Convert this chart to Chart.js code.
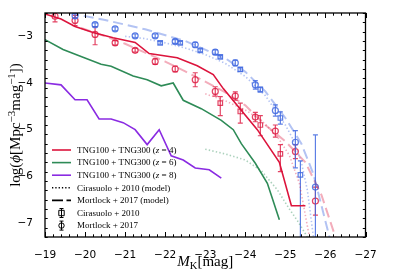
<!DOCTYPE html>
<html><head><meta charset="utf-8">
<script src="https://cdn.jsdelivr.net/npm/chart.js@4.4.0/dist/chart.umd.min.js"></script>
<style>html,body{margin:0;padding:0;background:#fff}</style>
</head><body>
<canvas id="myChart" width="407" height="271"></canvas>
<script>
// TNG100 + TNG300 luminosity functions
const magZ4 = [-19.0,-19.4,-19.75,-20.2,-20.7,-21.25,-21.6,-22.3,-22.8,-23.2,-23.45,-24.3,-24.85,-25.15,-25.5];
const phiZ4 = [-2.52,-2.63,-2.79,-2.92,-3.03,-3.13,-3.37,-3.46,-3.63,-3.82,-4.12,-5.0,-5.7,-6.63,-6.63];
const magZ6 = [-19.0,-19.45,-19.9,-20.4,-20.65,-21.2,-21.55,-21.9,-22.2,-22.45,-22.9,-23.4,-23.7,-23.9,-24.25,-24.55,-24.85];
const phiZ6 = [-3.07,-3.28,-3.43,-3.60,-3.64,-3.85,-3.93,-4.06,-4.00,-4.37,-4.55,-4.80,-5.00,-5.30,-5.72,-6.15,-6.93];
const magZ8 = [-19.0,-19.4,-19.75,-20.05,-20.35,-20.65,-20.95,-21.25,-21.55,-21.85,-22.15,-22.45,-22.75,-23.1,-23.4];
const phiZ8 = [-4.0,-4.04,-4.36,-4.36,-4.77,-4.77,-4.85,-5.0,-5.32,-5.0,-5.56,-5.65,-5.82,-5.86,-6.04];

// Cirasuolo+2010 model (dotted)
const cirModMagB = [-21.0,-21.5,-22.0,-22.5,-23.0,-23.5,-24.0,-24.5,-25.0,-25.2,-25.4,-25.55,-25.7];
const cirModPhiB = [-3.0,-3.05,-3.14,-3.25,-3.39,-3.58,-3.86,-4.27,-4.9,-5.22,-5.7,-6.3,-7.3];
const cirModMagR = [-23.0,-23.5,-24.0,-24.4,-24.8,-25.1,-25.35,-25.6];
const cirModPhiR = [-4.23,-4.38,-4.58,-4.8,-5.15,-5.55,-6.15,-7.3];
const cirModMagG = [-23.0,-23.5,-24.0,-24.4,-24.8,-25.1,-25.3,-25.55];
const cirModPhiG = [-5.42,-5.52,-5.65,-5.88,-6.29,-6.7,-6.95,-7.3];

// Mortlock+2017 model (dashed)
const morModMagB = [-19.6,-20.5,-21.5,-22.5,-23.5,-24.0,-24.5,-25.0,-25.4,-25.7,-26.1];
const morModPhiB = [-2.5,-2.65,-2.85,-3.1,-3.47,-3.76,-4.18,-4.75,-5.3,-5.95,-7.3];
const morModMagR = [-19.9,-20.5,-21.0,-21.5,-22.0,-22.5,-23.0,-23.5,-24.0,-24.5,-25.0,-25.5,-25.9,-26.25];
const morModPhiR = [-2.82,-3.0,-3.16,-3.35,-3.54,-3.75,-3.97,-4.2,-4.48,-4.9,-5.25,-5.7,-6.4,-7.3];

// Mortlock+2017 data (circles)
const morMagB = [-19.75,-20.25,-20.75,-21.25,-21.75,-22.25,-22.75,-23.25,-23.75,-24.25,-24.75,-25.25,-25.75];
const morPhiB = [-2.56,-2.75,-2.84,-2.99,-2.99,-3.11,-3.18,-3.34,-3.57,-4.04,-4.59,-5.27,-6.23];
const morErrLoB = [0.05,0.04,0.04,0.04,0.04,0.04,0.05,0.05,0.06,0.09,0.12,0.55,2.0];
const morErrHiB = [0.05,0.04,0.04,0.04,0.04,0.04,0.05,0.05,0.06,0.09,0.12,0.25,1.12];
const morMagR = [-19.25,-19.75,-20.25,-20.75,-21.25,-21.75,-22.25,-22.75,-23.25,-23.75,-24.25,-24.75,-25.25,-25.75];
const morPhiR = [-2.57,-2.66,-2.96,-3.14,-3.3,-3.54,-3.7,-3.93,-4.18,-4.28,-4.73,-5.03,-5.47,-6.53];
const morErrLoR = [0.12,0.11,0.22,0.05,0.04,0.06,0.06,0.15,0.1,0.09,0.1,0.13,0.15,0.3];
const morErrHiR = [0.08,0.11,0.17,0.05,0.04,0.06,0.06,0.15,0.1,0.09,0.1,0.13,0.15,0.3];

// Cirasuolo+2010 data (squares)
const cirMagB = [-21.875,-22.375,-22.875,-23.375,-23.875,-24.375,-24.875,-25.375];
const cirPhiB = [-3.14,-3.14,-3.3,-3.44,-3.71,-4.14,-4.75,-5.97];
const cirErrLoB = [0.03,0.03,0.03,0.03,0.04,0.05,0.13,2.0];
const cirErrHiB = [0.03,0.03,0.03,0.03,0.04,0.05,0.13,0.3];
const cirMagR = [-23.375,-23.875,-24.375,-24.875];
const cirPhiR = [-4.43,-4.61,-4.9,-5.52];
const cirErrLoR = [0.27,0.25,0.23,0.38];
const cirErrHiR = [0.14,0.18,0.2,0.2];

const xTickVals = [-19,-20,-21,-22,-23,-24,-25,-26,-27];
const yTickVals = [-3,-4,-5,-6,-7];

const red = 'rgb(220,20,60)', green = 'rgb(46,139,87)', purple = 'rgb(138,43,226)';
const blueA = 'rgba(65,105,225,0.85)', redA = 'rgba(220,20,60,0.8)';
const blueL = 'rgba(65,105,225,0.4)', redL = 'rgba(220,20,60,0.35)', greenL = 'rgba(46,139,87,0.4)';

const xy = (m, p) => m.map((v, i) => ({x: v, y: p[i]}));
const minus = s => String(s).replace('-', '\u2212');

function lineSet(m, p, color, dash, width) {
  return {type: 'line', data: xy(m, p), borderColor: color, borderWidth: width || 1.6,
    borderDash: dash || [], pointRadius: 0, fill: false, tension: 0, borderCapStyle: 'butt'};
}
function pointSet(m, p, lo, hi, color, style) {
  return {type: 'scatter', data: xy(m, p), borderColor: color, backgroundColor: 'rgba(0,0,0,0)',
    pointStyle: style, pointRadius: style === 'rect' ? 3.2 : 3, pointBorderWidth: 1.2,
    errLo: lo, errHi: hi};
}

const errorBars = {
  id: 'errorBars',
  beforeDatasetDraw(chart, args) {
    const ds = chart.data.datasets[args.index];
    if (!ds.errLo) return;
    const {ctx, chartArea: a, scales: {x, y}} = chart;
    ctx.save();
    ctx.beginPath(); ctx.rect(a.left, a.top, a.right - a.left, a.bottom - a.top); ctx.clip();
    ctx.strokeStyle = ds.borderColor; ctx.lineWidth = 1.2;
    ds.data.forEach((p, i) => {
      const px = x.getPixelForValue(p.x);
      const y1 = y.getPixelForValue(p.y + ds.errHi[i]);
      const y2 = y.getPixelForValue(p.y - ds.errLo[i]);
      ctx.beginPath();
      ctx.moveTo(px, y1); ctx.lineTo(px, y2);
      ctx.moveTo(px - 2.5, y1); ctx.lineTo(px + 2.5, y1);
      ctx.moveTo(px - 2.5, y2); ctx.lineTo(px + 2.5, y2);
      ctx.stroke();
    });
    ctx.restore();
  }
};

function drawRuns(ctx, runs, x, y) {
  runs.forEach(r => {
    ctx.font = r.font;
    ctx.fillText(r.t, x, y + (r.dy || 0));
    x += ctx.measureText(r.t).width;
  });
  return x;
}
function runsWidth(ctx, runs) {
  let w = 0;
  runs.forEach(r => { ctx.font = r.font; w += ctx.measureText(r.t).width; });
  return w;
}

const decor = {
  id: 'decor',
  afterDraw(chart) {
    const {ctx, chartArea: a, scales: {x, y}} = chart;
    ctx.save();
    ctx.strokeStyle = '#000'; ctx.fillStyle = '#000';
    // ticks on all sides, pointing inward
    ctx.lineWidth = 1;
    ctx.beginPath();
    for (let k = -270; k <= -190; k += 2) {
      const v = k / 10;
      const major = k % 10 === 0;
      const len = major ? 5 : 2.7;
      const px = Math.round(x.getPixelForValue(v)) + 0.5;
      ctx.moveTo(px, a.bottom); ctx.lineTo(px, a.bottom - len);
      ctx.moveTo(px, a.top); ctx.lineTo(px, a.top + len);
    }
    for (let k = -73; k <= -25; k += 2) {
      const v = k / 10;
      if (v < y.min || v > y.max) continue;
      const major = k % 10 === 0;
      const len = major ? 5 : 2.7;
      const py = Math.round(y.getPixelForValue(v)) + 0.5;
      ctx.moveTo(a.left, py); ctx.lineTo(a.left + len, py);
      ctx.moveTo(a.right, py); ctx.lineTo(a.right - len, py);
    }
    ctx.stroke();
    ctx.lineWidth = 1.3;
    ctx.strokeRect(a.left, a.top, a.right - a.left, a.bottom - a.top);

    // axis titles
    const serif = '"Liberation Serif", "DejaVu Serif", serif';
    ctx.textBaseline = 'alphabetic';
    const xt = [
      {t: 'M', font: 'italic 15px ' + serif},
      {t: 'K', font: '10.5px ' + serif, dy: 2.5},
      {t: '[mag]', font: '15px ' + serif}
    ];
    const cx = (a.left + a.right) / 2;
    drawRuns(ctx, xt, cx - runsWidth(ctx, xt) / 2, 266);

    const yt = [
      {t: 'log(', font: '15px ' + serif},
      {t: '\u03d5', font: 'italic 15px ' + serif},
      {t: '[Mpc', font: '15px ' + serif},
      {t: '\u22123', font: '11px ' + serif, dy: -5.5},
      {t: 'mag', font: '15px ' + serif},
      {t: '\u22121', font: '11px ' + serif, dy: -5.5},
      {t: '])', font: '15px ' + serif}
    ];
    ctx.save();
    ctx.translate(20, (a.top + a.bottom) / 2);
    ctx.rotate(-Math.PI / 2);
    drawRuns(ctx, yt, -runsWidth(ctx, yt) / 2, 0);
    ctx.restore();

    // legend
    const lf = '9px ' + serif, lfi = 'italic 9px ' + serif;
    const rows = [
      {kind: 'line', color: red, z: '4'},
      {kind: 'line', color: green, z: '6'},
      {kind: 'line', color: purple, z: '8'},
      {kind: 'dot', text: 'Cirasuolo + 2010 (model)'},
      {kind: 'dash', text: 'Mortlock + 2017 (model)'},
      {kind: 'sq', text: 'Cirasuolo + 2010'},
      {kind: 'circ', text: 'Mortlock + 2017'}
    ];
    const x0 = 52, x1 = 71, tx = 77, ry0 = 150, dy = 12.6;
    rows.forEach((r, i) => {
      const ry = ry0 + i * dy;
      ctx.strokeStyle = r.color || '#000';
      ctx.lineWidth = 1.6;
      ctx.setLineDash([]);
      if (r.kind === 'line' || r.kind === 'dot' || r.kind === 'dash') {
        if (r.kind === 'dot') ctx.setLineDash([1.3, 2]);
        if (r.kind === 'dash') ctx.setLineDash([11, 3.5]);
        ctx.beginPath(); ctx.moveTo(x0, ry); ctx.lineTo(x1, ry); ctx.stroke();
        ctx.setLineDash([]);
      } else {
        const mx = (x0 + x1) / 2;
        ctx.lineWidth = 1;
        ctx.beginPath();
        ctx.moveTo(mx, ry - 4.5); ctx.lineTo(mx, ry + 4.5);
        ctx.moveTo(mx - 2, ry - 4.5); ctx.lineTo(mx + 2, ry - 4.5);
        ctx.moveTo(mx - 2, ry + 4.5); ctx.lineTo(mx + 2, ry + 4.5);
        ctx.stroke();
        ctx.beginPath();
        if (r.kind === 'sq') ctx.rect(mx - 2.7, ry - 2.7, 5.4, 5.4);
        else ctx.arc(mx, ry, 2.7, 0, Math.PI * 2);
        ctx.stroke();
      }
      ctx.fillStyle = '#000';
      ctx.textBaseline = 'middle';
      if (r.z) {
        drawRuns(ctx, [
          {t: 'TNG100 + TNG300 (', font: lf},
          {t: 'z', font: lfi},
          {t: ' = ' + r.z + ')', font: lf}
        ], tx, ry + 0.5);
      } else {
        drawRuns(ctx, [{t: r.text, font: lf}], tx, ry + 0.5);
      }
    });
    ctx.restore();
  }
};

new Chart(document.getElementById('myChart'), {
  data: {
    datasets: [
      lineSet(cirModMagB, cirModPhiB, blueL, [1.4, 2.2], 1.6),
      lineSet(cirModMagR, cirModPhiR, redL, [1.4, 2.2], 1.6),
      lineSet(cirModMagG, cirModPhiG, greenL, [1.4, 2.2], 1.6),
      lineSet(morModMagB, morModPhiB, blueL, [10, 5], 2),
      lineSet(morModMagR, morModPhiR, redL, [10, 5], 2),
      lineSet(magZ6, phiZ6, green, [], 1.6),
      lineSet(magZ8, phiZ8, purple, [], 1.6),
      lineSet(magZ4, phiZ4, red, [], 1.6),
      pointSet(cirMagB, cirPhiB, cirErrLoB, cirErrHiB, blueA, 'rect'),
      pointSet(morMagB, morPhiB, morErrLoB, morErrHiB, blueA, 'circle'),
      pointSet(cirMagR, cirPhiR, cirErrLoR, cirErrHiR, redA, 'rect'),
      pointSet(morMagR, morPhiR, morErrLoR, morErrHiR, redA, 'circle')
    ]
  },
  options: {
    responsive: false,
    animation: false,
    events: [],
    clip: {left: 0, top: 0, right: 0, bottom: 0},
    layout: {padding: {left: 0, top: 13, right: 41.5, bottom: 0}},
    plugins: {legend: {display: false}, tooltip: {enabled: false}},
    scales: {
      x: {
        type: 'linear', min: -27, max: -19, reverse: true,
        grid: {display: false}, border: {display: false},
        afterBuildTicks: s => { s.ticks = xTickVals.map(v => ({value: v})); },
        afterFit: s => { s.height = 34; },
        ticks: {color: '#000', padding: 4, maxRotation: 0, autoSkip: false,
          font: {family: '"DejaVu Sans"', size: 10.5}, callback: v => minus(v)}
      },
      y: {
        type: 'linear', min: -7.3, max: -2.5,
        grid: {display: false}, border: {display: false},
        afterBuildTicks: s => { s.ticks = yTickVals.map(v => ({value: v})); },
        afterFit: s => { s.width = 45; },
        ticks: {color: '#000', padding: 4, autoSkip: false,
          font: {family: '"DejaVu Sans"', size: 10.5}, callback: v => minus(v)}
      }
    }
  },
  plugins: [errorBars, decor]
});
</script>
</body></html>
